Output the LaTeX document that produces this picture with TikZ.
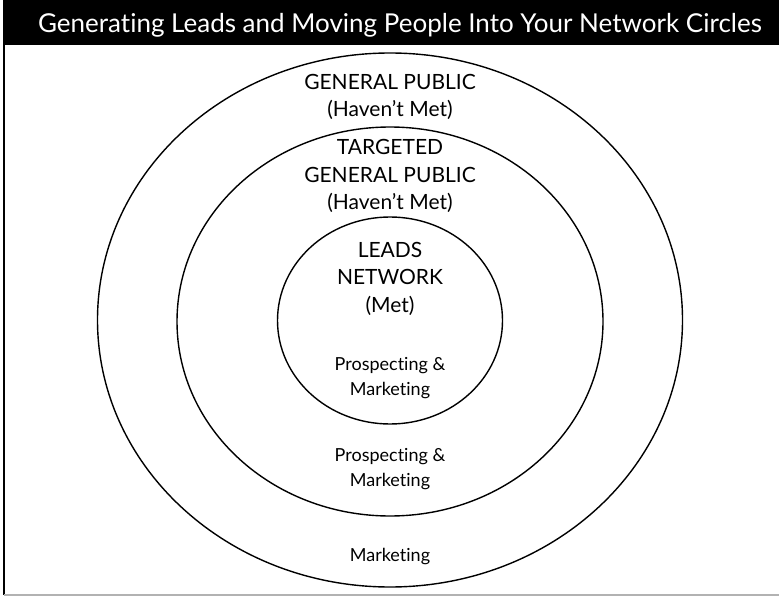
\documentclass[tikz,border=0pt]{standalone}
\usepackage{fontspec}
\setmainfont{Lato}[Ligatures=NoCommon]
\usetikzlibrary{shapes.geometric}
\begin{document}
\begin{tikzpicture}[x=1pt,y=-1pt,
  ring/.style={draw=black,line width=1.4pt,ellipse,inner sep=0pt},
  bigtxt/.style={font=\fontsize{21}{27.5}\selectfont,align=center,anchor=base,inner sep=0pt},
  smalltxt/.style={font=\fontsize{18}{25}\selectfont,align=center,anchor=base,inner sep=0pt}]
\useasboundingbox (0,0) rectangle (779,596);
\fill[white] (0,0) rectangle (779,596);
% title bar
\fill[black] (3,0) rectangle (779,45);
\node[text=white,font=\fontsize{26}{30}\selectfont,inner sep=0pt,anchor=base] (title) at (400,33)
  {Generating Leads and Moving People Into Your Network Circles};
% frame
\draw[black,line width=1.5pt] (4,45) -- (4,595);
\draw[black!30,line width=1.5pt] (4,595) -- (779,595);
% rings
\node[ring,minimum width=585pt,minimum height=534pt] (outer) at (390,320) {};
\node[ring,minimum width=426pt,minimum height=389pt] (middle) at (390,321.5) {};
\node[ring,minimum width=225pt,minimum height=207pt] (inner) at (390,320.5) {};
% texts (anchored at the baseline of the last line)
\node[bigtxt] (gp) at (390,117) {GENERAL PUBLIC\\(Haven’t Met)};
\node[bigtxt] (tgp) at (390,210) {TARGETED\\GENERAL PUBLIC\\(Haven’t Met)};
\node[bigtxt] (leads) at (390,312) {LEADS\\NETWORK\\(Met)};
\node[smalltxt] (pm1) at (390,395) {Prospecting \&\\Marketing};
\node[smalltxt] (pm2) at (390,486) {Prospecting \&\\Marketing};
\node[smalltxt] (mk) at (390,561) {Marketing};
\end{tikzpicture}
\end{document}
